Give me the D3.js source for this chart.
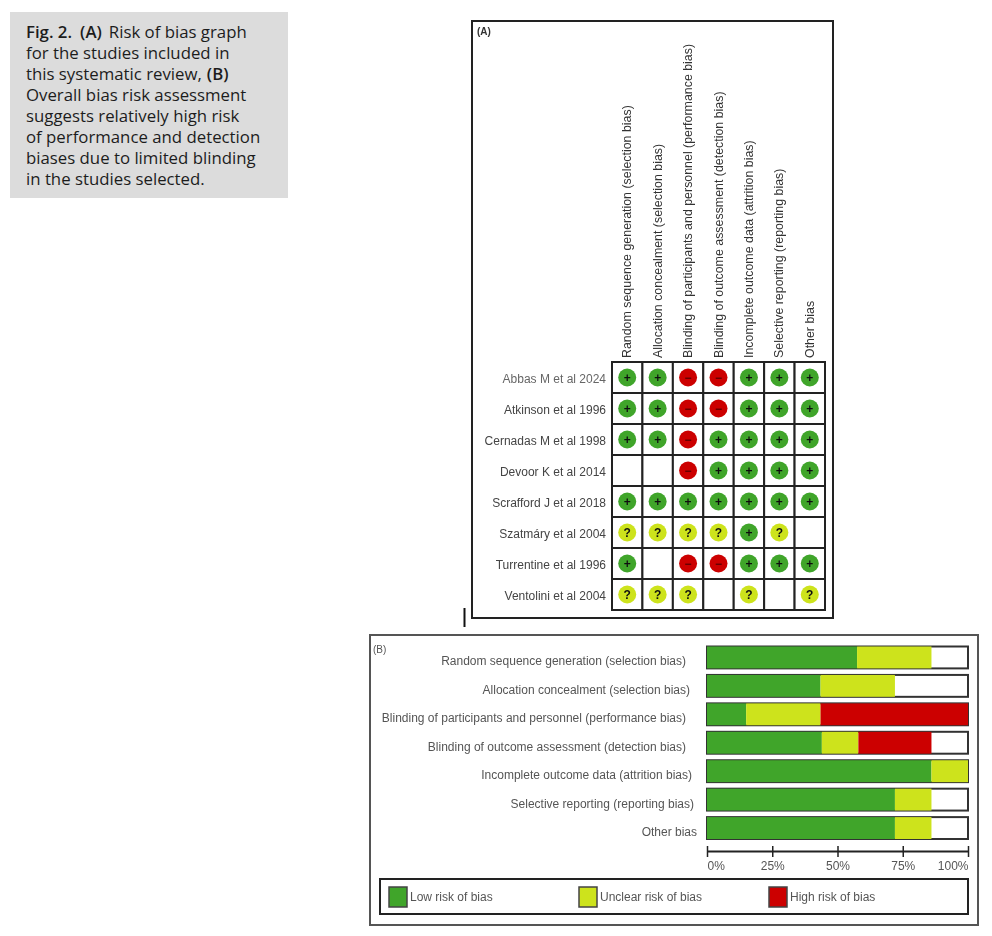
<!DOCTYPE html>
<html>
<head>
<meta charset="utf-8">
<script src="https://cdn.jsdelivr.net/npm/d3@7"></script>
<style>
  html, body { margin: 0; padding: 0; background: #fff; }
  text { font-family: "Liberation Sans", Arial, sans-serif; }
  .caption { font-family: "Open Sans", sans-serif; font-size: 16.8px; fill: #1c1c1c; }
</style>
</head>
<body>
<div id="chart"></div>
<script>
// Caption, each line is a list of [text, bold, gap before] runs
const captionLines = [
	[["Fig. 2.", true, 0], ["(A)", true, 8], ["Risk of bias graph", false, 7]],
	[["for the studies included in", false, 0]],
	[["this systematic review,", false, 0], ["(B)", true, 5]],
	[["Overall bias risk assessment", false, 0]],
	[["suggests relatively high risk", false, 0]],
	[["of performance and detection", false, 0]],
	[["biases due to limited blinding", false, 0]],
	[["in the studies selected.", false, 0]]
];

const domains = [
	"Random sequence generation (selection bias)",
	"Allocation concealment (selection bias)",
	"Blinding of participants and personnel (performance bias)",
	"Blinding of outcome assessment (detection bias)",
	"Incomplete outcome data (attrition bias)",
	"Selective reporting (reporting bias)",
	"Other bias"
];

const studies = [
	"Abbas M et al 2024",
	"Atkinson et al 1996",
	"Cernadas M et al 1998",
	"Devoor K et al 2014",
	"Scrafford J et al 2018",
	"Szatmáry et al 2004",
	"Turrentine et al 1996",
	"Ventolini et al 2004"
];

// one string per study, one character per domain: + low, ? unclear, - high, . blank
const judgements = [
	"++--+++",
	"++--+++",
	"++-++++",
	"..-++++",
	"+++++++",
	"????+?.",
	"+.--+++",
	"???.?.?"
];

// percent of studies per domain
const lowRisk     = [57.5, 43.5, 15, 44, 86, 72, 72];
const unclearRisk = [28.5, 28.5, 28.5, 14, 14, 14, 14];
const highRisk    = [0, 0, 56.5, 28, 0, 0, 0];

const axisTicks = [0, 25, 50, 75, 100];
const legendLabels = ["Low risk of bias", "Unclear risk of bias", "High risk of bias"];

const green = "#3fa52b", yellow = "#cde31c", red = "#cc0000";

const svg = d3.select("#chart").append("svg")
	.attr("width", 992)
	.attr("height", 936)
	.style("display", "block");

svg.append("defs").append("filter")
	.attr("id", "soft")
	.append("feGaussianBlur")
	.attr("stdDeviation", 0.6);

// Caption box
svg.append("rect")
	.attr("x", 10)
	.attr("y", 12)
	.attr("width", 278)
	.attr("height", 186)
	.attr("fill", "#dcdcdc");

const caption = svg.append("text").attr("class", "caption");
captionLines.forEach((line, i) => {
	line.forEach((run, j) => {
		let span = caption.append("tspan")
			.attr("font-weight", run[1] ? "600" : "400")
			.attr("dx", run[2])
			.text(run[0]);
		if (j === 0) span.attr("x", 26).attr("y", 38 + i * 21);
	});
});

// stray mark between the panels
svg.append("line")
	.attr("x1", 464.5).attr("x2", 464.5)
	.attr("y1", 608).attr("y2", 627)
	.attr("stroke", "#111")
	.attr("stroke-width", 2);

// ---------- Panel A ----------
const panelA = svg.append("g").attr("filter", "url(#soft)");

panelA.append("rect")
	.attr("x", 472).attr("y", 21)
	.attr("width", 361).attr("height", 597)
	.attr("fill", "#fff")
	.attr("stroke", "#222")
	.attr("stroke-width", 2);

panelA.append("text")
	.attr("x", 477).attr("y", 35)
	.attr("font-size", 10)
	.attr("font-weight", "bold")
	.attr("fill", "#333")
	.text("(A)");

const colScale = d3.scaleBand().domain(domains).range([612, 825]);
const rowScale = d3.scaleBand().domain(studies).range([362, 610]);

panelA.selectAll("text.col-label")
	.data(domains)
	.enter()
	.append("text")
	.attr("class", "col-label")
	.attr("transform", d => `translate(${colScale(d) + colScale.bandwidth() / 2 + 4},358) rotate(-90)`)
	.attr("font-size", 12.4)
	.attr("fill", "#333")
	.text(d => d);

panelA.selectAll("text.row-label")
	.data(studies)
	.enter()
	.append("text")
	.attr("class", "row-label")
	.attr("x", 606)
	.attr("y", d => rowScale(d) + rowScale.bandwidth() / 2 + 5.5)
	.attr("text-anchor", "end")
	.attr("font-size", 12)
	.attr("fill", (d, i) => i === 0 ? "#666" : "#444")
	.text(d => d);

const cells = [];
studies.forEach((study, r) => {
	domains.forEach((domain, c) => {
		cells.push({study: study, domain: domain, mark: judgements[r][c]});
	});
});

panelA.selectAll("rect.cell")
	.data(cells)
	.enter()
	.append("rect")
	.attr("class", "cell")
	.attr("x", d => colScale(d.domain))
	.attr("y", d => rowScale(d.study))
	.attr("width", colScale.bandwidth())
	.attr("height", rowScale.bandwidth())
	.attr("fill", "#fff")
	.attr("stroke", "#222")
	.attr("stroke-width", 2);

const markColour = {"+": green, "?": yellow, "-": red};
const markGlyph = {"+": "+", "?": "?", "-": "\u2212"};
const filled = cells.filter(d => d.mark !== ".");

panelA.selectAll("circle.mark")
	.data(filled)
	.enter()
	.append("circle")
	.attr("class", "mark")
	.attr("cx", d => colScale(d.domain) + colScale.bandwidth() / 2)
	.attr("cy", d => rowScale(d.study) + rowScale.bandwidth() / 2)
	.attr("r", 9)
	.attr("fill", d => markColour[d.mark]);

panelA.selectAll("text.glyph")
	.data(filled)
	.enter()
	.append("text")
	.attr("class", "glyph")
	.attr("x", d => colScale(d.domain) + colScale.bandwidth() / 2)
	.attr("y", d => rowScale(d.study) + rowScale.bandwidth() / 2 + 4)
	.attr("text-anchor", "middle")
	.attr("font-size", 12)
	.attr("font-weight", "bold")
	.attr("fill", d => d.mark === "-" ? "#5a0000" : "#111")
	.text(d => markGlyph[d.mark]);

// ---------- Panel B ----------
const panelB = svg.append("g").attr("filter", "url(#soft)");

panelB.append("rect")
	.attr("x", 370).attr("y", 635)
	.attr("width", 608).attr("height", 290)
	.attr("fill", "#fff")
	.attr("stroke", "#555")
	.attr("stroke-width", 2);

panelB.append("text")
	.attr("x", 373).attr("y", 653)
	.attr("font-size", 10)
	.attr("fill", "#555")
	.text("(B)");

const xScale = d3.scaleLinear().domain([0, 100]).range([707, 968]);
const yScale = d3.scaleBand().domain(domains).range([646.5, 839]).paddingInner(0.23);

// right end of each label wanders a little in the source
const labelRight = [686, 690, 686, 686, 692, 694, 697];

panelB.selectAll("text.bar-label")
	.data(domains)
	.enter()
	.append("text")
	.attr("class", "bar-label")
	.attr("x", (d, i) => labelRight[i])
	.attr("y", d => yScale(d) + yScale.bandwidth() / 2 + 8)
	.attr("text-anchor", "end")
	.attr("font-size", 12)
	.attr("fill", "#555")
	.text(d => d);

panelB.selectAll("rect.bar-bg")
	.data(domains)
	.enter()
	.append("rect")
	.attr("class", "bar-bg")
	.attr("x", xScale(0))
	.attr("y", d => yScale(d))
	.attr("width", xScale(100) - xScale(0))
	.attr("height", yScale.bandwidth())
	.attr("fill", "#fff")
	.attr("stroke", "#333")
	.attr("stroke-width", 2);

const riskTable = domains.map((d, i) => ({domain: d, low: lowRisk[i], unclear: unclearRisk[i], high: highRisk[i]}));
const stacked = d3.stack().keys(["low", "unclear", "high"])(riskTable);
const riskColour = d3.scaleOrdinal().domain(["low", "unclear", "high"]).range([green, yellow, red]);

panelB.selectAll("g.layer")
	.data(stacked)
	.enter()
	.append("g")
	.attr("class", "layer")
	.attr("fill", d => riskColour(d.key))
	.selectAll("rect")
	.data(d => d)
	.enter()
	.append("rect")
	.attr("x", d => xScale(d[0]))
	.attr("y", d => yScale(d.data.domain))
	.attr("width", d => xScale(d[1]) - xScale(d[0]))
	.attr("height", yScale.bandwidth());

// Axis
const xAxis = d3.axisBottom(xScale)
	.tickValues(axisTicks)
	.tickFormat(d => d + "%")
	.tickSize(11)
	.tickPadding(4);

const axisG = panelB.append("g")
	.attr("transform", "translate(0,846)")
	.call(xAxis);
axisG.select(".domain").attr("d", `M${xScale(0)},5.5H${xScale(100)}`).attr("stroke", "#222").attr("stroke-width", 2);
axisG.selectAll(".tick line").attr("stroke", "#222").attr("stroke-width", 1.5);
axisG.selectAll(".tick text")
	.attr("font-size", 12)
	.attr("font-family", "Liberation Sans")
	.attr("fill", "#555")
	.attr("text-anchor", d => d === 0 ? "start" : d === 100 ? "end" : "middle");

// Legend
panelB.append("rect")
	.attr("x", 380).attr("y", 879)
	.attr("width", 588).attr("height", 35)
	.attr("fill", "#fff")
	.attr("stroke", "#222")
	.attr("stroke-width", 2);

const legendX = d3.scalePoint().domain(legendLabels).range([389, 769]);

panelB.selectAll("rect.swatch")
	.data(legendLabels)
	.enter()
	.append("rect")
	.attr("class", "swatch")
	.attr("x", d => legendX(d))
	.attr("y", 887)
	.attr("width", 18)
	.attr("height", 20)
	.attr("fill", (d, i) => [green, yellow, red][i])
	.attr("stroke", "#444")
	.attr("stroke-width", 1.5);

panelB.selectAll("text.legend-label")
	.data(legendLabels)
	.enter()
	.append("text")
	.attr("class", "legend-label")
	.attr("x", d => legendX(d) + 21)
	.attr("y", 901)
	.attr("font-size", 12)
	.attr("fill", "#555")
	.text(d => d);
</script>
</body>
</html>
